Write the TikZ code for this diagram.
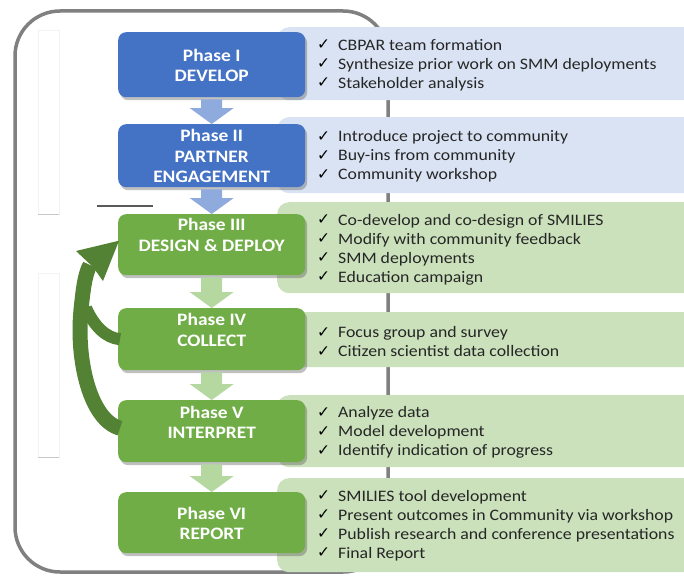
\documentclass[tikz,border=0pt]{standalone}
\usepackage{fontspec}
\setmainfont{Carlito}[FakeStretch=1.11]
\newfontfamily\symfont{DejaVu Sans}
\usetikzlibrary{shadows,calc}

\definecolor{phblue}{RGB}{68,114,196}
\definecolor{phgreen}{RGB}{112,173,71}
\definecolor{listblue}{RGB}{218,227,243}
\definecolor{listgreen}{RGB}{202,225,187}
\definecolor{arrblue}{RGB}{143,170,220}
\definecolor{arrgreen}{RGB}{181,216,160}
\definecolor{loopgreen}{RGB}{84,130,53}
\definecolor{framegray}{RGB}{128,128,128}
\definecolor{listtext}{RGB}{38,38,38}

% check mark in front of every list item
\newcommand\chk{\makebox[21pt][l]{\raisebox{0.5pt}{\symfont\fontsize{15.5}{15.5}\selectfont\color{black}✓}}}

\tikzset{
  phasebox/.style={rectangle, rounded corners=8pt, minimum width=187pt,
    anchor=north west, inner sep=0pt,
    drop shadow={shadow xshift=2pt, shadow yshift=-3pt, opacity=0.35, fill=black!70}},
  phasetext/.style={text=white, align=center, inner sep=0pt,
    font=\bfseries\fontsize{17.5}{20.5}\selectfont},
  listbox/.style={rectangle, rounded corners=12pt, minimum width=430pt,
    anchor=north west, inner sep=0pt},
  listtext/.style={text=listtext, align=left, anchor=west, inner sep=0pt,
    font=\fontsize{16}{19}\selectfont},
  loop/.style={draw=loopgreen, line width=15pt},
}

\begin{document}
\begin{tikzpicture}[x=1pt,y=-1pt]
\useasboundingbox (0,0) rectangle (684,575);
\fill[white] (0,0) rectangle (684,575);
\clip (0,0) rectangle (684,575);

% outer rounded frame
\draw[framegray, line width=3.5pt, rounded corners=45pt] (15,11) rectangle (388,572);

% faint guide strips on the left
\draw[black!5, line width=0.6pt] (38,30) rectangle (59,214);
\draw[black!22, line width=0.8pt] (38,214) -- (59,214);
\draw[black!5, line width=0.6pt] (38,273) rectangle (59,457);
\draw[black!22, line width=0.8pt] (38,457) -- (59,457);
\draw[black!65, line width=2pt] (97,206) -- (153,206);

% list panels
\node[listbox, fill=listblue,  minimum height=73pt] (b1) at (277,27)  {};
\node[listbox, fill=listblue,  minimum height=76pt] (b2) at (277,117) {};
\node[listbox, fill=listgreen, minimum height=91pt] (b3) at (277,202) {};
\node[listbox, fill=listgreen, minimum height=55pt] (b4) at (277,312) {};
\node[listbox, fill=listgreen, minimum height=72pt] (b5) at (277,395) {};
\node[listbox, fill=listgreen, minimum height=94pt] (b6) at (277,478) {};

% phase boxes
\node[phasebox, fill=phblue,  minimum height=65pt] (p1) at (118,32)  {};
\node[phasebox, fill=phblue,  minimum height=63pt] (p2) at (118,124) {};
\node[phasebox, fill=phgreen, minimum height=61pt] (p3) at (118,214) {};
\node[phasebox, fill=phgreen, minimum height=62pt] (p4) at (118,308) {};
\node[phasebox, fill=phgreen, minimum height=62pt] (p5) at (118,400) {};
\node[phasebox, fill=phgreen, minimum height=61pt] (p6) at (118,492) {};

\node[phasetext] (t1) at ($(p1.center)+(0,0.5)$)  {Phase I\\DEVELOP};
\node[phasetext] (t2) at ($(p2.center)+(0,0.5)$)  {Phase II\\PARTNER\\ENGAGEMENT};
\node[phasetext] (t3) at ($(p3.center)+(0,-10)$)  {Phase III\\DESIGN \& DEPLOY};
\node[phasetext] (t4) at ($(p4.center)+(0,-9.5)$) {Phase IV\\COLLECT};
\node[phasetext] (t5) at ($(p5.center)+(0,-9)$)   {Phase V\\INTERPRET};
\node[phasetext] (t6) at ($(p6.center)+(0,0.5)$)  {Phase VI\\REPORT};

% block arrows from phase to phase
\foreach \a/\b/\c in {p1/p2/arrblue, p2/p3/arrblue, p3/p4/arrgreen, p4/p5/arrgreen, p5/p6/arrgreen}{
  \fill[\c] ($(\a.south)+(-10.5,2)$) -- ($(\b.north)+(-10.5,-16)$) -- ($(\b.north)+(-22,-16)$)
    -- (\b.north) -- ($(\b.north)+(22,-16)$) -- ($(\b.north)+(10.5,-16)$)
    -- ($(\a.south)+(10.5,2)$) -- cycle;
}

% feedback loops back to Phase III
\coordinate (headbase) at (90,265);
\draw[loop] ($(p5.west)+(2,-3)$) .. controls (90,420) and (76,360) .. (81,310)
  .. controls (83,290) and (85,274) .. (headbase);
\draw[loop, line width=12pt] ($(p4.west)+(2,0)$) .. controls (106,338) and (94,326) .. (86,308);
\fill[loopgreen] (76,251) -- ($(p3.west)+(1,-4)$) -- (103,281) -- (93,267) -- cycle;

% list items
\node[listtext] (l1) at (317,65) {\chk CBPAR team formation\\\chk Synthesize prior work on SMM deployments\\\chk Stakeholder analysis};
\node[listtext] (l2) at (317,156.5) {\chk Introduce project to community\\\chk Buy-ins from community\\\chk Community workshop};
\node[listtext] (l3) at (317,249.5) {\chk Co-develop and co-design of SMILIES\\\chk Modify with community feedback\\\chk SMM deployments\\\chk Education campaign};
\node[listtext] (l4) at (317,341.5) {\chk Focus group and survey\\\chk Citizen scientist data collection};
\node[listtext] (l5) at (317,432.5) {\chk Analyze data\\\chk Model development\\\chk Identify indication of progress};
\node[listtext] (l6) at (317,525.5) {\chk SMILIES tool development\\\chk Present outcomes in Community via workshop\\\chk Publish research and conference presentations\\\chk Final Report};
\end{tikzpicture}
\end{document}
